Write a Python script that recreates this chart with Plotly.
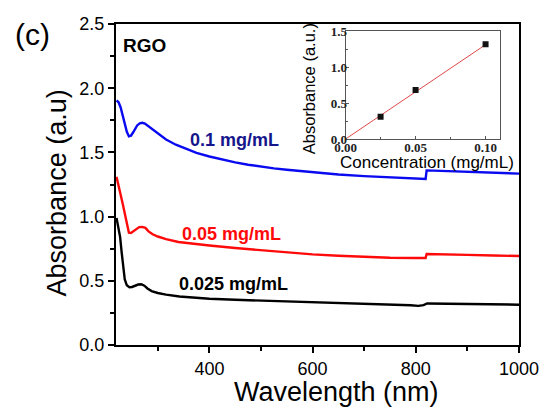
import plotly.graph_objects as go

# UV-vis absorbance spectra of RGO dispersions
wl_01 = [220, 224, 228, 232, 236, 240, 244, 248, 252, 256, 260, 265, 270, 275, 280, 290, 300, 316, 335, 355, 375, 400,
         425, 450, 475, 500, 525, 550, 600, 650, 700, 750, 800, 819, 821, 850, 900, 950, 1000]
abs_01 = [1.905, 1.89, 1.85, 1.79, 1.72, 1.66, 1.625, 1.63, 1.655, 1.685, 1.71, 1.727, 1.731, 1.725, 1.71, 1.675, 1.645,
          1.60, 1.56, 1.527, 1.497, 1.468, 1.443, 1.422, 1.404, 1.389, 1.376, 1.365, 1.346, 1.328, 1.315, 1.305, 1.297,
          1.293, 1.36, 1.356, 1.347, 1.34, 1.335]

wl_005 = [220, 224, 228, 232, 236, 240, 244, 248, 252, 258, 264, 270, 276, 282, 290, 300, 316, 340, 370, 400, 450, 500,
          550, 600, 650, 700, 750, 800, 819, 821, 850, 900, 950, 1000]
abs_005 = [1.31, 1.25, 1.17, 1.10, 1.02, 0.94, 0.875, 0.872, 0.885, 0.905, 0.918, 0.92, 0.912, 0.885, 0.862, 0.845,
           0.825, 0.802, 0.787, 0.775, 0.755, 0.737, 0.72, 0.706, 0.695, 0.686, 0.68, 0.678, 0.677, 0.709, 0.708, 0.702,
           0.697, 0.693]

wl_0025 = [220, 223, 227, 230, 233, 236, 240, 245, 250, 256, 262, 268, 274, 280, 288, 300, 316, 342, 370, 400, 450, 515,
           600, 700, 760, 790, 805, 815, 822, 850, 900, 950, 1000]
abs_0025 = [0.99, 0.93, 0.84, 0.72, 0.60, 0.51, 0.465, 0.449, 0.452, 0.462, 0.471, 0.473, 0.462, 0.44, 0.42, 0.405,
            0.392, 0.378, 0.368, 0.36, 0.352, 0.345, 0.333, 0.321, 0.315, 0.31, 0.305, 0.31, 0.323, 0.322, 0.318, 0.315,
            0.314]

# Calibration inset
conc = [0.025, 0.05, 0.10]
conc_abs = [0.31, 0.68, 1.315]
fit_conc = [0.0, 0.10]
fit_abs = [0.0, 1.31]

series_labels = ["0.1 mg/mL", "0.05 mg/mL", "0.025 mg/mL"]
series_colors = ["#0a0af0", "#ff0a0a", "#000000"]

FONT = "Liberation Sans, Arial, sans-serif"
SERIF = "Liberation Serif, Times New Roman, serif"

fig = go.Figure()
for wl, ab, col in [(wl_01, abs_01, series_colors[0]),
                    (wl_005, abs_005, series_colors[1]),
                    (wl_0025, abs_0025, series_colors[2])]:
    fig.add_trace(go.Scatter(x=wl, y=ab, mode="lines", line=dict(color=col, width=2.4),
                             showlegend=False, xaxis="x", yaxis="y"))

fig.add_trace(go.Scatter(x=fit_conc, y=fit_abs, mode="lines", line=dict(color="#e04848", width=1),
                         showlegend=False, xaxis="x2", yaxis="y2"))
fig.add_trace(go.Scatter(x=conc, y=conc_abs, mode="markers",
                         marker=dict(symbol="square", size=6, color="#111111"),
                         showlegend=False, xaxis="x2", yaxis="y2"))

L, R, T, B = 116, 29, 24, 68
W, H = 551, 413
pw, ph = W - L - R, H - T - B


def px(x):
    return (x - L) / pw


def py(y):
    return (H - B - y) / ph


fig.update_layout(
    width=W, height=H,
    margin=dict(l=L, r=R, t=T, b=B, pad=0),
    paper_bgcolor="white", plot_bgcolor="white",
    font=dict(family=FONT, color="black"),
    xaxis=dict(domain=[0, 1], range=[219, 1000], tick0=0, dtick=200,
               showline=True, linecolor="black", linewidth=2, mirror=True,
               ticks="outside", ticklen=6, tickwidth=1.5, tickcolor="black",
               minor=dict(dtick=100, ticks="outside", ticklen=4, tickwidth=1.5, tickcolor="black"),
               tickfont=dict(size=18), showgrid=False, zeroline=False),
    yaxis=dict(domain=[0, 1], range=[0, 2.5], dtick=0.5, tickformat=".1f",
               showline=True, linecolor="black", linewidth=2, mirror=True,
               ticks="outside", ticklen=6, tickwidth=1.5, tickcolor="black",
               minor=dict(dtick=0.25, ticks="outside", ticklen=4, tickwidth=1.5, tickcolor="black"),
               tickfont=dict(size=18), showgrid=False, zeroline=False),
    xaxis2=dict(domain=[px(347.3), px(502.7)], anchor="y2", range=[0, 0.1102], dtick=0.05, tickformat=".2f",
                showline=True, linecolor="#555555", linewidth=1, mirror=True,
                ticks="inside", ticklen=3, tickcolor="#555555",
                minor=dict(dtick=0.025, ticks="inside", ticklen=2, tickcolor="#555555"),
                tickfont=dict(size=13, family=SERIF, color="#222222", weight="bold"),
                ticklabelstandoff=-4,
                showgrid=False, zeroline=False),
    yaxis2=dict(domain=[py(139), py(31)], anchor="x2", range=[0, 1.5], dtick=0.5, tickformat=".1f",
                showline=True, linecolor="#555555", linewidth=1, mirror=True,
                ticks="inside", ticklen=3, tickcolor="#555555",
                minor=dict(dtick=0.25, ticks="inside", ticklen=2, tickcolor="#555555"),
                tickfont=dict(size=13, family=SERIF, color="#222222", weight="bold"),
                ticklabelstandoff=-5,
                showgrid=False, zeroline=False),
)

annotations = [
    dict(text="Wavelength (nm)", x=px(338), y=py(392), font=dict(size=27)),
    dict(text="Absorbance (a.u)", x=px(57), y=py(193), textangle=-90, font=dict(size=27)),
    dict(text="(c)", x=px(32), y=py(34), font=dict(size=30)),
    dict(text="<b>RGO</b>", x=px(121), y=py(45), xanchor="left", font=dict(size=19)),
    dict(text="<b>" + series_labels[0] + "</b>", x=px(189), y=py(140), xanchor="left",
         font=dict(size=18, color="#16168c")),
    dict(text="<b>" + series_labels[1] + "</b>", x=px(180), y=py(234), xanchor="left",
         font=dict(size=18, color="#ff0a0a")),
    dict(text="<b>" + series_labels[2] + "</b>", x=px(177), y=py(284), xanchor="left",
         font=dict(size=18, color="#000000")),
    dict(text="Absorbance (a.u.)", x=px(310.7), y=py(89), textangle=-90, font=dict(size=16.5)),
    dict(text="Concentration (mg/mL)", x=px(429.5), y=py(162), font=dict(size=17)),
]
for a in annotations:
    a.setdefault("xanchor", "center")
    a.update(xref="paper", yref="paper", showarrow=False, yanchor="middle")
fig.update_layout(annotations=annotations)

fig.write_html("out.html")
